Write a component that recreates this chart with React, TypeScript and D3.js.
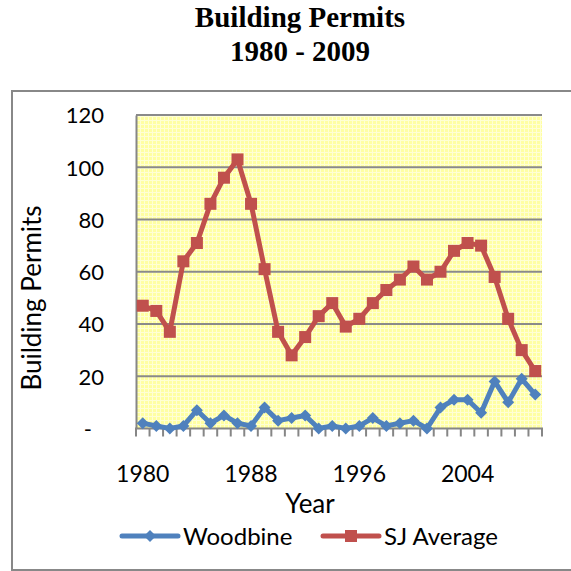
import React, { useEffect, useRef } from 'react';
import * as d3 from 'd3';

// years on the category axis
const years = d3.range(1980, 2010);
// permits
const woodbine = [2, 1, 0, 1, 7, 2, 5, 2, 1, 8, 3, 4, 5, 0, 1, 0, 1, 4, 1, 2, 3, 0, 8, 11, 11, 6, 18, 10, 19, 13];
const sjAverage = [47, 45, 37, 64, 71, 86, 96, 103, 86, 61, 37, 28, 35, 43, 48, 39, 42, 48, 53, 57, 62, 57, 60, 68, 71, 70, 58, 42, 30, 22];
const yTicks = [0, 20, 40, 60, 80, 100, 120];
const xLabels = [1980, 1988, 1996, 2004];

const BLUE = '#4f81bd';
const RED = '#c0504d';
const FONT = 'Lato, "Open Sans", sans-serif';

export default function App() {
  const ref = useRef<SVGSVGElement | null>(null);

  useEffect(() => {
    const svg = d3.select(ref.current);
    svg.selectAll('*').remove();

    const left = 136, right = 542, top = 115, bottom = 428.5;

    const x = d3.scaleBand<number>().domain(years).range([left, right]).padding(0);
    const cx = (yr: number) => (x(yr) as number) + x.bandwidth() / 2;
    const y = d3.scaleLinear().domain([0, 120]).range([bottom, top]);

    // background pattern for plot area
    const defs = svg.append('defs');
    const pat = defs.append('pattern')
      .attr('id', 'grid')
      .attr('width', 4).attr('height', 4)
      .attr('patternUnits', 'userSpaceOnUse');
    pat.append('rect').attr('width', 4).attr('height', 4).attr('fill', '#ffffa2');
    pat.append('path').attr('d', 'M0,0.5H4M0.5,0V4').attr('stroke', '#ffffd4').attr('stroke-width', 1);

    // outer chart border (right side runs off the picture)
    svg.append('rect')
      .attr('x', 12).attr('y', 91)
      .attr('width', 600).attr('height', 479)
      .attr('fill', 'white')
      .attr('stroke', '#888888').attr('stroke-width', 2);

    // title
    const title = svg.append('text')
      .attr('text-anchor', 'middle')
      .attr('font-family', '"Liberation Serif", "Times New Roman", serif')
      .attr('font-weight', 'bold')
      .attr('font-size', 29);
    title.append('tspan').attr('x', 300).attr('y', 27).text('Building Permits');
    title.append('tspan').attr('x', 300).attr('y', 61).text('1980 - 2009');

    svg.append('rect')
      .attr('x', left).attr('y', top)
      .attr('width', right - left).attr('height', bottom - top)
      .attr('fill', 'url(#grid)');

    // horizontal gridlines
    svg.append('g')
      .selectAll('line')
      .data(yTicks.filter(d => d > 0))
      .join('line')
      .attr('x1', left).attr('x2', right)
      .attr('y1', d => y(d)).attr('y2', d => y(d))
      .attr('stroke', '#8a8a8a').attr('stroke-width', 2);

    // y axis
    const yAxis = svg.append('g')
      .attr('transform', `translate(${left},0)`)
      .call(d3.axisLeft(y).tickValues(yTicks).tickSize(0).tickPadding(32)
        .tickFormat(d => (+d === 0 ? '-' : String(d))));
    yAxis.select('.domain').attr('stroke', '#868686').attr('stroke-width', 2);
    yAxis.selectAll('text')
      .attr('font-family', FONT).attr('font-size', 22).attr('fill', '#000')
      .attr('dy', '0.36em');
    yAxis.selectAll<SVGTextElement, number>('text')
      .filter(d => +d === 0)
      .attr('dx', -12);

    // x axis with ticks on category boundaries
    const xg = svg.append('g').attr('transform', `translate(0,${bottom})`);
    xg.append('line')
      .attr('x1', left - 1).attr('x2', right + 1)
      .attr('stroke', '#868686').attr('stroke-width', 2);
    xg.selectAll('line.tick')
      .data(d3.range(years.length + 1))
      .join('line')
      .attr('class', 'tick')
      .attr('x1', i => left + i * x.bandwidth())
      .attr('x2', i => left + i * x.bandwidth())
      .attr('y1', 0).attr('y2', 8)
      .attr('stroke', '#868686').attr('stroke-width', 2);
    xg.selectAll('text')
      .data(xLabels)
      .join('text')
      .attr('x', d => cx(d))
      .attr('y', 53)
      .attr('text-anchor', 'middle')
      .attr('font-family', FONT).attr('font-size', 23)
      .text(d => d);

    // axis titles
    svg.append('text')
      .attr('x', 310).attr('y', 513)
      .attr('text-anchor', 'middle')
      .attr('font-family', FONT).attr('font-size', 26)
      .text('Year');
    svg.append('text')
      .attr('transform', 'translate(41,298) rotate(-90)')
      .attr('text-anchor', 'middle')
      .attr('font-family', FONT).attr('font-size', 26)
      .text('Building Permits');

    const line = d3.line<number>()
      .x((_, i) => cx(years[i]))
      .y(d => y(d));

    // SJ Average
    svg.append('path')
      .datum(sjAverage)
      .attr('fill', 'none')
      .attr('stroke', RED).attr('stroke-width', 5)
      .attr('stroke-linejoin', 'round')
      .attr('d', line);
    svg.append('g')
      .selectAll('rect')
      .data(sjAverage)
      .join('rect')
      .attr('x', (_, i) => cx(years[i]) - 6)
      .attr('y', d => y(d) - 6)
      .attr('width', 12).attr('height', 12)
      .attr('fill', RED);

    // Woodbine, diamonds are rotated squares
    svg.append('path')
      .datum(woodbine)
      .attr('fill', 'none')
      .attr('stroke', BLUE).attr('stroke-width', 5)
      .attr('stroke-linejoin', 'round')
      .attr('d', line);
    svg.append('g')
      .selectAll('path')
      .data(woodbine)
      .join('path')
      .attr('transform', (d, i) => `translate(${cx(years[i])},${y(d)}) rotate(45)`)
      .attr('d', d3.symbol().type(d3.symbolSquare).size(72)())
      .attr('fill', BLUE);

    // legend
    const legend = [
      { label: 'Woodbine', color: BLUE, x0: 122, shape: 'diamond' },
      { label: 'SJ Average', color: RED, x0: 323, shape: 'square' },
    ];
    const lg = svg.append('g').selectAll('g').data(legend).join('g')
      .attr('transform', d => `translate(${d.x0},536)`);
    lg.append('line')
      .attr('x1', 0).attr('x2', 56)
      .attr('stroke', d => d.color).attr('stroke-width', 5)
      .attr('stroke-linecap', 'round');
    lg.append('path')
      .attr('transform', d => (d.shape === 'diamond' ? 'translate(28,0) rotate(45)' : 'translate(28,0)'))
      .attr('d', d => d3.symbol().type(d3.symbolSquare).size(d.shape === 'diamond' ? 72 : 144)())
      .attr('fill', d => d.color);
    lg.append('text')
      .attr('x', 61).attr('y', 9)
      .attr('font-family', FONT).attr('font-size', 24)
      .text(d => d.label);
  }, []);

  return (
    <svg ref={ref} width={571} height={571}
      style={{ position: 'absolute', left: 0, top: 0 }} />
  );
}
